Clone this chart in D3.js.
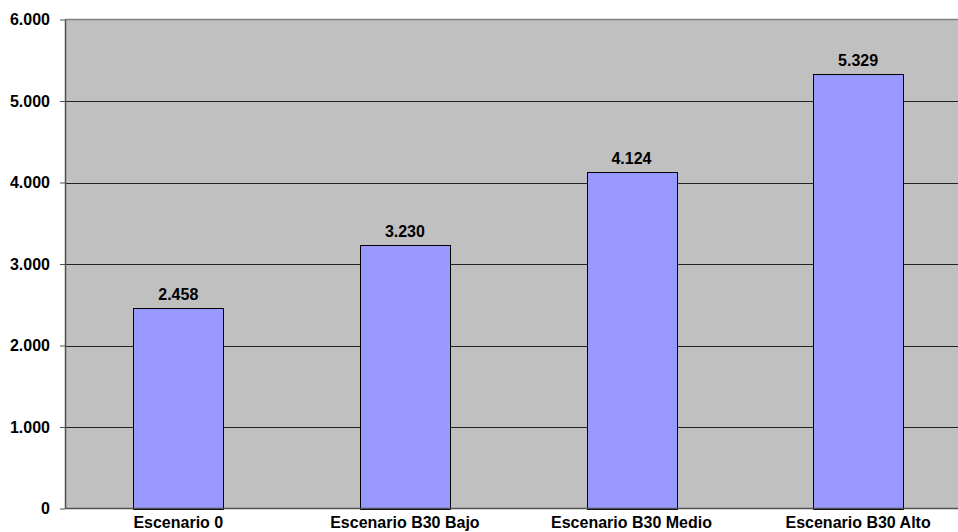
<!DOCTYPE html>
<html>
<head>
<meta charset="utf-8">
<script src="https://cdn.jsdelivr.net/npm/d3@7"></script>
<style>
  html, body { margin: 0; padding: 0; background: #fff; }
  svg { display: block; }
  text { font-family: "Liberation Sans", Arial, sans-serif; font-weight: bold; fill: #000; }
</style>
</head>
<body>
<svg id="chart" width="958" height="532"></svg>
<script>
const categories = ["Escenario 0", "Escenario B30 Bajo", "Escenario B30 Medio", "Escenario B30 Alto"];
const values = [2458, 3230, 4124, 5329];
const yTicks = [0, 1000, 2000, 3000, 4000, 5000, 6000];
const valueLabels = ["2.458", "3.230", "4.124", "5.329"];

const svg = d3.select("#chart");
const plotLeft = 65, plotTop = 19.5, plotBottom = 508.5;
const bandStep = 226.6;
const plotRight = plotLeft + bandStep * categories.length;
const fontSize = 16;

const x = d3.scaleBand().domain(categories).range([plotLeft, plotRight]).paddingInner(0.603).paddingOuter(0.3015);
const y = d3.scaleLinear().domain([0, 6000]).range([plotBottom, plotTop]);

const fmt = v => v === 0 ? "0" : d3.format(",")(v).replace(/,/g, ".");

svg.append("rect")
  .attr("x", plotLeft).attr("y", plotTop)
  .attr("width", plotRight - plotLeft).attr("height", plotBottom - plotTop)
  .attr("fill", "#c0c0c0");

svg.append("line")
  .attr("x1", plotLeft).attr("x2", plotRight)
  .attr("y1", plotTop).attr("y2", plotTop)
  .attr("stroke", "#808080").attr("stroke-width", 1.5);

svg.append("g").selectAll("line")
  .data(yTicks.filter(t => t > 0 && t < 6000))
  .join("line")
  .attr("x1", plotLeft).attr("x2", plotRight)
  .attr("y1", d => Math.round(y(d)) + 0.5).attr("y2", d => Math.round(y(d)) + 0.5)
  .attr("stroke", "#222").attr("stroke-width", 1);

svg.append("g").selectAll("rect")
  .data(values)
  .join("rect")
  .attr("x", (d, i) => Math.round(x(categories[i])) + 0.5)
  .attr("y", d => Math.round(y(d)) + 0.5)
  .attr("width", Math.round(x.bandwidth()))
  .attr("height", d => Math.round(y(0)) - Math.round(y(d)))
  .attr("fill", "#9999ff")
  .attr("stroke", "#000").attr("stroke-width", 1);

svg.append("g").selectAll("text")
  .data(values)
  .join("text")
  .attr("x", (d, i) => x(categories[i]) + x.bandwidth() / 2)
  .attr("y", d => y(d) - 8.5)
  .attr("text-anchor", "middle")
  .attr("font-size", fontSize)
  .text((d, i) => valueLabels[i]);

const yAxis = d3.axisLeft(y).tickValues(yTicks).tickFormat(fmt).tickSize(5).tickPadding(10);
const gy = svg.append("g").attr("transform", `translate(${plotLeft},0)`).call(yAxis);
gy.select(".domain").attr("stroke", "#505050").attr("stroke-width", 1.5).attr("d", `M0.5,${plotTop}V${plotBottom}`);
gy.selectAll(".tick line").attr("stroke", "#505050");
gy.selectAll(".tick text").attr("font-size", fontSize).attr("font-family", "Liberation Sans, Arial, sans-serif").attr("font-weight", "bold").attr("fill", "#000");

svg.append("line")
  .attr("x1", plotLeft).attr("x2", plotRight)
  .attr("y1", plotBottom).attr("y2", plotBottom)
  .attr("stroke", "#505050").attr("stroke-width", 1.5);

const xAxis = d3.axisBottom(x).tickSize(0).tickPadding(0);
const gx = svg.append("g").attr("transform", `translate(0,${plotBottom})`).call(xAxis);
gx.select(".domain").remove();
gx.selectAll(".tick text")
  .attr("y", 19).attr("dy", null)
  .attr("font-size", fontSize).attr("font-family", "Liberation Sans, Arial, sans-serif").attr("font-weight", "bold").attr("fill", "#000");
</script>
</body>
</html>
